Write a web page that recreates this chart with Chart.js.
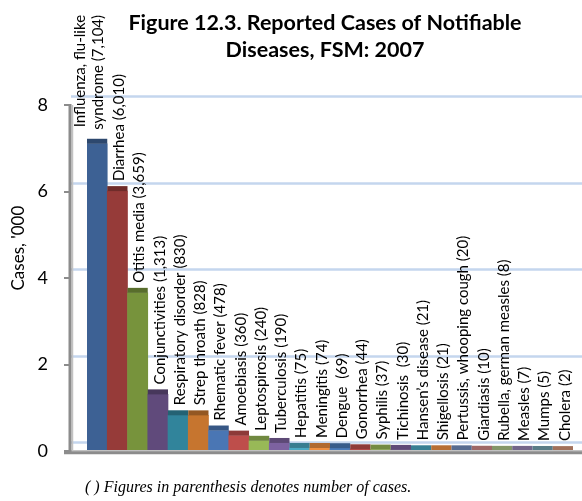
<!DOCTYPE html>
<html>
<head>
<meta charset="utf-8">
<script src="https://cdn.jsdelivr.net/npm/chart.js@4/dist/chart.umd.min.js"></script>
<style>
  html, body { margin: 0; padding: 0; background: #ffffff; }
  #wrap { width: 582px; height: 501px; position: relative; }
</style>
</head>
<body>
<div id="wrap"><canvas id="chart" width="582" height="501"></canvas></div>
<script>
// Reported cases of notifiable diseases, FSM 2007
const categories = [
  ["Influenza, flu-like", "syndrome"], "Diarrhea", "Otitis media", "Conjunctivities",
  "Respiratory disorder", "Strep throath", "Rhematic fever", "Amoebiasis",
  "Leptospirosis", "Tuberculosis", "Hepatitis", "Meningitis", "Dengue ",
  "Gonorrhea", "Syphilis", "Tichinosis ", "Hansen\u2019s disease", "Shigellosis",
  "Pertussis, whooping cough", "Giardiasis", "Rubella, german measles",
  "Measles", "Mumps", "Cholera"
];
const caseCounts = [
  7104, 6010, 3659, 1313, 830, 828, 478, 360, 240, 190, 75, 74, 69,
  44, 37, 30, 21, 21, 20, 10, 8, 7, 5, 2
];
const yTickValues = [0, 2, 4, 6, 8];

const titleLines = ["Figure 12.3. Reported Cases of Notifiable", "Diseases, FSM: 2007"];
const yAxisTitle = "Cases, '000";
const footnote = "( ) Figures in parenthesis denotes number of cases.";

// plotted in thousands of cases
const casesThousands = caseCounts.map(c => c / 1000);

const barColors = [
  '#3D6194', '#963B39', '#77933C', '#604A7B', '#31849B', '#C6752F',
  '#4A76B4', '#BE4E4B', '#98B957', '#7D62A0', '#4AA9C3', '#EE8F42',
  '#4A7CBA', '#C0504D', '#9BBB59', '#8064A2', '#4BACC6', '#F79646',
  '#7592C2', '#D68C8B', '#B2CB8E', '#9C8ABA', '#78A7B6', '#D9997B'
];

function shade(hex, f) {
  const n = parseInt(hex.slice(1), 16);
  const r = Math.round(((n >> 16) & 255) * f);
  const g = Math.round(((n >> 8) & 255) * f);
  const b = Math.round((n & 255) * f);
  return 'rgb(' + r + ',' + g + ',' + b + ')';
}

function labelLines(i) {
  const name = categories[i];
  const lines = Array.isArray(name) ? name.slice() : [name];
  lines[lines.length - 1] += ' (' + caseCounts[i].toLocaleString('en-US') + ')';
  return lines;
}

const WALL_SHIFT = 9;     // back-wall gridlines sit above the tick positions
const TOP_FACE = 5;       // depth of the darker top face on each column
const AXIS_X = 70;

const decorations = {
  id: 'decorations',
  beforeDatasetsDraw(chart) {
    const { ctx, scales: { y } } = chart;
    ctx.save();
    ctx.strokeStyle = '#C4D6EE';
    ctx.lineWidth = 2.5;
    yTickValues.forEach(v => {
      const py = Math.round(y.getPixelForValue(v) - WALL_SHIFT) + 0.5;
      ctx.beginPath();
      ctx.moveTo(AXIS_X + 1, py);
      ctx.lineTo(chart.width, py);
      ctx.stroke();
    });
    ctx.restore();
  },
  afterDatasetsDraw(chart) {
    const { ctx, scales: { y } } = chart;
    const meta = chart.getDatasetMeta(0);
    ctx.save();
    // darker top faces
    meta.data.forEach((el, i) => {
      ctx.fillStyle = shade(barColors[i], 0.74);
      ctx.fillRect(el.x - el.width / 2, el.y - TOP_FACE, el.width, TOP_FACE);
    });
    // rotated data labels
    ctx.fillStyle = '#000000';
    ctx.font = '15px Lato';
    ctx.textBaseline = 'middle';
    meta.data.forEach((el, i) => {
      const lines = labelLines(i);
      const base = el.y - TOP_FACE - 5;
      const lineH = 18;
      if (lines.length === 1) {
        ctx.save();
        ctx.translate(el.x + 2, base);
        ctx.rotate(-Math.PI / 2);
        ctx.textAlign = 'left';
        ctx.fillText(lines[0], 0, 0);
        ctx.restore();
      } else {
        const maxW = Math.max(...lines.map(l => ctx.measureText(l).width));
        lines.forEach((l, k) => {
          const x = el.x + 1 - (lines.length - 1 - k) * lineH;
          ctx.save();
          ctx.translate(x, base - 4 - maxW);
          ctx.rotate(-Math.PI / 2);
          ctx.textAlign = 'right';
          ctx.fillText(l, 0, 0);
          ctx.restore();
        });
      }
    });
    // axis lines and tick marks
    const y0 = y.getPixelForValue(0);
    const yTop = y.getPixelForValue(yTickValues[yTickValues.length - 1]);
    ctx.strokeStyle = '#C2C2C2';
    ctx.lineWidth = 1.5;
    ctx.beginPath();
    ctx.moveTo(AXIS_X + 2.5, yTop); ctx.lineTo(AXIS_X + 2.5, y0);
    ctx.moveTo(AXIS_X, y0 - 0.5); ctx.lineTo(chart.width, y0 - 0.5);
    ctx.stroke();
    ctx.strokeStyle = '#8C8C8C';
    ctx.lineWidth = 3;
    ctx.beginPath();
    ctx.moveTo(AXIS_X, yTop - 1); ctx.lineTo(AXIS_X, y0 + 3);
    ctx.moveTo(AXIS_X - 6, y0 + 1.5); ctx.lineTo(chart.width, y0 + 1.5);
    ctx.stroke();
    ctx.lineWidth = 2;
    ctx.beginPath();
    yTickValues.forEach(v => {
      const py = Math.round(y.getPixelForValue(v));
      ctx.moveTo(AXIS_X - 6, py); ctx.lineTo(AXIS_X, py);
    });
    ctx.stroke();
    ctx.restore();
  },
  afterDraw(chart) {
    const { ctx, chartArea, scales: { y } } = chart;
    ctx.save();
    ctx.fillStyle = '#000000';
    // chart title
    ctx.font = 'bold 21.5px Lato';
    ctx.textAlign = 'center';
    ctx.textBaseline = 'alphabetic';
    const cx = (chartArea.left + chartArea.right) / 2 - 5;
    titleLines.forEach((t, k) => ctx.fillText(t, cx, 30 + k * 27));
    // value axis title
    ctx.save();
    ctx.font = '17px Lato';
    ctx.translate(19, (y.top + y.bottom) / 2 - 30);
    ctx.rotate(-Math.PI / 2);
    ctx.textBaseline = 'middle';
    ctx.textAlign = 'center';
    ctx.fillText(yAxisTitle, 0, 0);
    ctx.restore();
    // note under the axis
    ctx.font = 'italic 16px "Liberation Serif"';
    ctx.textAlign = 'left';
    ctx.fillText(footnote, 85, 492);
    ctx.restore();
  }
};

new Chart(document.getElementById('chart'), {
  type: 'bar',
  data: {
    labels: categories,
    datasets: [{
      data: casesThousands,
      backgroundColor: barColors,
      borderWidth: 0,
      barPercentage: 1,
      categoryPercentage: 1
    }]
  },
  options: {
    responsive: false,
    animation: false,
    devicePixelRatio: 1,
    layout: { padding: { top: 105, bottom: 32, left: 0, right: 9 } },
    plugins: {
      legend: { display: false },
      tooltip: { enabled: false },
      title: { display: false }
    },
    scales: {
      x: {
        display: false,
        offset: true
      },
      y: {
        min: 0,
        max: 8,
        afterBuildTicks: s => { s.ticks = yTickValues.map(v => ({ value: v })); },
        afterFit: s => { s.width = 87; },
        border: { display: false },
        grid: { display: false, drawTicks: false },
        ticks: {
          padding: 39,
          color: '#000000',
          font: { family: 'Lato', size: 18 }
        }
      }
    }
  },
  plugins: [decorations]
});
</script>
</body>
</html>
